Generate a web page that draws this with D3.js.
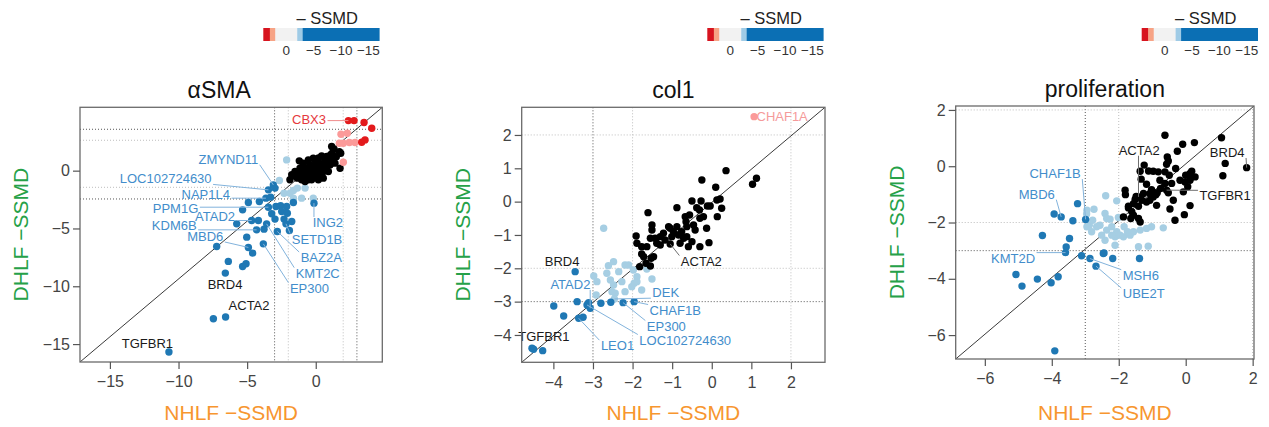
<!DOCTYPE html>
<html>
<head>
<meta charset="utf-8">
<script src="https://cdn.jsdelivr.net/npm/d3@7"></script>
<style>
body { margin: 0; background: #fff; }
</style>
</head>
<body>
<svg id="chart" width="1269" height="427"></svg>
<script>
// Module : SSMD scatter panels
// NHLF -SSMD (x) against DHLF -SSMD (y)

var panelTitles = ["αSMA", "col1", "proliferation"];
var xTitle = "NHLF \u2212SSMD";
var yTitle = "DHLF \u2212SSMD";

// colour key (top strip)
var ssmdRange = [4.2, -17];
var ssmdBreaks = [3, 2, -2, -3];
var ssmdTicks = [0, -5, -10, -15];

// ---- αSMA
var smaXTicks = [-15, -10, -5, 0];
var smaYTicks = [-15, -10, -5, 0];
var smaXCuts = [-3, -2, 2, 3];
var smaYCuts = [-2.45, -1.44, 2.63, 3.58];
var smaRed = [[2.38,4.33],[2.79,4.33],[3.52,4.16],[4.08,3.67],[3.35,2.46],[3.59,2.66]];
var smaPink = [[1.84,3.15],[2.30,3.24],[2.01,2.37],[2.45,2.43],[2.86,2.43],[2.01,0.73],[1.72,2.37]];
var smaBlack = [[1.16,2.09],[1.33,1.88],[1.72,1.65],[1.77,0.21],[1.82,1.51],
    [0.43,1.28],[0.80,1.22],[-0.18,1.08],[-1.20,0.85],[-0.54,0.93],[0.19,0.79],[0.92,0.79],[1.28,0.93],[-0.90,0.65],
    [-0.42,0.50],[-0.05,0.50],[0.31,0.50],[0.67,0.36],[1.04,0.50],[1.40,0.65],
    [-1.75,-0.36],[-1.39,-0.22],[-1.15,0.21],[-0.90,0.07],[-0.66,0.21],[-0.42,-0.07],[-0.18,0.07],[0.07,0.07],[0.55,-0.07],[0.92,-0.07],[0.31,-0.22],
    [-1.34,-0.65],[-1.03,-0.79],[-0.78,-0.94],[-0.54,-0.79],[-0.30,-0.79],[0.07,-0.51],[0.43,-0.36],[-1.63,-0.45],[-0.18,-0.36],[-0.71,-0.36],[-1.15,-0.22],[0.19,-0.79],[0.55,-0.65],[-0.47,-0.45],
    [-0.95,0.36],[-0.05,0.93],[0.67,0.79],[1.09,1.37],[-1.51,-0.07],[-1.88,-0.79],
    [0.20,1.10],[0.50,0.20],[-0.30,0.30],[1.20,1.50],[0.90,0.50],[-0.80,-0.60],[-0.20,-0.20],[0.40,0.10],[1.50,1.20]];
var smaLightBlue = [[-2.12,0.93],[-2.65,-0.85],[-1.63,-1.72],[-1.34,-1.51],[-0.78,-1.51],[-1.03,-2.38],[-0.18,-2.38],[-2.31,-1.95],[-1.88,-1.95],[-1.63,-2.38]];
var smaBlue = [[-3.09,-1.23],[-3.45,-1.66],[-2.97,-1.51],[-3.63,-2.38],[-3.29,-2.29],[-4.11,-2.67],[-4.91,-2.75],[-5.33,-3.39],[-3.45,-3.16],[-2.90,-3.10],
    [-2.56,-3.04],[-2.12,-3.10],[-1.63,-2.75],[-3.21,-3.73],[-2.48,-3.53],[-2.07,-3.68],[-2.97,-4.19],[-2.31,-4.19],[-2.17,-4.60],[-1.75,-4.40],
    [-1.92,-5.17],[-4.67,-4.31],[-4.18,-4.31],[-5.76,-4.60],[-4.31,-5.12],[-3.77,-5.06],[-3.58,-4.60],[-2.80,-5.26],[-5.03,-5.75],[-4.91,-6.64],
    [-4.60,-7.13],[-3.82,-6.33],[-7.22,-6.56],[-6.37,-7.85],[-5.33,-8.29],[-5.08,-8.05],[-6.59,-8.86],[-7.46,-12.81],[-6.57,-12.66],[-10.70,-15.69],[-0.13,-2.81]];
var smaLabelGenes = ["CBX3","ZMYND11","LOC102724630","NAP1L4","PPM1G","ATAD2","KDM6B","MBD6","ING2","SETD1B","BAZ2A","KMT2C","EP300","BRD4","ACTA2","TGFBR1"];
var smaLabelKinds = ["up","down","down","down","down","down","down","down","down","down","down","down","down","none","none","none"];
var smaLabelPoints = [[2.38,4.33],[-3.09,-1.23],[-3.45,-1.66],[-3.63,-2.38],[-3.45,-3.16],[-4.67,-4.31],[-4.31,-5.12],[-4.91,-6.64],[-0.13,-2.81],[-2.17,-4.60],[-2.80,-5.26],[-3.58,-4.60],[-3.82,-6.33],[-6.59,-8.86],[-6.57,-12.66],[-10.70,-15.69]];

// ---- col1
var colXTicks = [-4, -3, -2, -1, 0, 1, 2];
var colYTicks = [-4, -3, -2, -1, 0, 1, 2];
var colXCuts = [-3, -2, 2, 3];
var colYCuts = [-3, -2, 2, 3];
var colRed = [];
var colPink = [[1.07,2.55]];
var colBlack = [[0.36,0.93],[1.03,0.52],[1.13,0.70],[-0.25,0.65],[0.10,0.43],
    [-0.50,0.02],[-0.27,0.02],[-0.04,-0.13],[0.13,0.05],[0.21,0.08],[0.25,-0.20],[0.14,-0.45],[-0.11,-0.13],[-0.38,-0.18],[-0.31,-0.25],
    [-0.88,-0.18],[-0.67,-0.45],[-0.65,-0.60],[-0.56,-0.40],[-0.46,-0.70],[-0.42,-0.85],[-0.30,-0.50],[-0.21,-0.45],[-0.13,-0.80],[-0.07,-1.23],[-0.30,-1.35],
    [-1.61,-0.33],[-1.51,-0.70],[-1.51,-0.85],
    [-1.91,-1.03],[-1.89,-1.25],[-1.77,-1.35],[-1.64,-1.35],[-1.55,-1.10],[-1.39,-1.25],[-1.30,-1.05],[-1.18,-1.15],[-1.09,-0.75],[-1.05,-0.80],[-0.97,-0.90],
    [-0.84,-1.00],[-0.80,-1.25],[-0.76,-0.90],[-0.71,-1.10],[-0.63,-1.05],[-0.59,-1.35],[-0.50,-1.20],[-1.22,-0.95],
    [-1.82,-1.95],[-1.72,-1.65],[-1.66,-1.85],[-1.55,-1.93],[-1.53,-1.70],[-1.47,-1.65],[-1.77,-1.57],
    [-1.05,-1.27],[-1.30,-1.30],[-1.43,-1.10],[-0.88,-0.75],[-0.63,-0.75],[-1.01,-1.05]];
var colLightBlue = [[-2.73,-0.80],[-2.61,-1.92],[-2.48,-1.80],[-2.35,-2.10],[-2.19,-1.90],[-2.10,-1.90],[-1.98,-2.05],[-1.89,-2.25],[-1.96,-2.45],[-1.64,-2.02],
    [-1.51,-2.32],[-2.98,-2.23],[-2.90,-2.40],[-2.65,-2.15],[-2.56,-2.35],[-2.48,-2.50],[-2.27,-2.40],[-2.44,-2.75],[-2.19,-2.70],[-2.52,-2.70],
    [-1.77,-2.65],[-2.92,-2.80],[-1.89,-2.40],[-2.02,-2.55],[-2.46,-2.92]];
var colBlue = [[-3.45,-2.10],[-3.40,-3.00],[-3.11,-3.03],[-3.07,-3.20],[-2.80,-3.05],[-2.55,-3.02],[-2.24,-3.03],[-1.96,-3.00],[-3.99,-3.13],[-3.74,-3.43],
    [-3.36,-3.50],[-3.25,-3.47],[-4.54,-4.40],[-4.27,-4.47],[-4.50,-4.43],[-3.15,-3.10]];
var colLabelGenes = ["CHAF1A","ACTA2","BRD4","ATAD2","DEK","CHAF1B","EP300","LOC102724630","LEO1","TGFBR1"];
var colLabelKinds = ["upWeak","none","none","down","down","down","down","down","down","none"];
var colLabelPoints = [[1.07,2.55],[-1.05,-1.27],[-3.45,-2.10],[-3.07,-3.20],[-2.46,-2.92],[-1.96,-3.00],[-2.24,-3.03],[-3.15,-3.10],[-3.36,-3.50],[-4.54,-4.40]];

// ---- proliferation
var proXTicks = [-6, -4, -2, 0, 2];
var proYTicks = [-6, -4, -2, 0, 2];
var proXCuts = [-3, -2, 2, 3];
var proYCuts = [-3, -2, 2, 3];
var proRed = [];
var proPink = [];
var proBlack = [[-0.62,1.10],[-0.09,0.78],[0.26,0.84],[-0.25,0.53],[-0.55,0.33],[-0.52,0.19],[-0.57,0.07],[-0.62,-0.20],[-0.30,-0.08],[0.13,-0.26],
    [0.18,-0.18],[0.28,-0.38],[0.00,-0.32],[-0.17,-0.50],[-0.02,-0.56],[0.13,-0.50],[-0.42,-0.61],[-0.62,-0.61],[-0.77,-0.50],[-0.49,-0.32],
    [1.07,1.01],[1.18,0.10],[1.11,-0.34],[1.82,-0.05],
    [-1.24,0.04],[-1.36,-0.18],[-1.11,-0.17],[-0.97,-0.18],[-0.82,-0.20],[-1.33,-0.46],[-1.17,-0.64],[-1.02,-0.83],[-0.85,-0.94],[-0.75,-0.79],
    [-0.52,-0.94],[-0.37,-1.21],[-0.07,-0.91],[0.06,-0.73],[0.13,-1.40],[-0.04,-1.72],[-0.32,-1.92],[-0.47,-1.52],[-0.89,-1.01],[-1.07,-1.21],
    [-0.87,-1.39],[-1.17,-1.27],[-1.31,-1.21],[-1.48,-1.07],[-1.56,-1.33],[-1.41,-1.42],[-1.71,-1.42],[-1.81,-0.85],[-1.80,-1.01],[-1.86,-1.80],
    [-1.64,-1.86],[-1.56,-1.74],[-1.41,-1.86],[-1.36,-1.98],[-1.61,-1.62],[-1.71,-1.48],[-1.51,-1.18],[-1.36,-1.09],[-1.26,-0.97],[-1.07,-0.97],
    [-0.97,-1.09],[-0.57,-0.85]];
var proLightBlue = [[-2.95,-1.56],[-2.74,-1.53],[-2.39,-1.05],[-2.06,-1.23],[-2.41,-1.68],[-2.36,-1.86],[-2.01,-1.82],[-2.88,-2.10],[-2.95,-2.15],[-2.81,-2.33],
    [-2.56,-2.10],[-2.36,-2.27],[-2.21,-2.15],[-2.06,-2.33],[-1.84,-2.15],[-1.71,-2.39],[-2.11,-2.51],[-2.41,-2.63],[-2.11,-2.81],[-1.96,-2.45],
    [-1.86,-2.51],[-1.66,-2.45],[-1.56,-2.33],[-1.36,-2.27],[-1.17,-2.21],[-1.02,-2.15],[-0.67,-2.19],[-1.41,-2.86],[-1.12,-2.84],[-2.78,-1.92],
    [-2.66,-2.15],[-2.21,-2.45],[-2.51,-2.45],[-2.26,-1.88],[-1.74,-2.33],[-2.96,-1.70]];
var proBlue = [[-3.23,-1.33],[-2.99,-1.89],[-3.93,-1.70],[-3.72,-1.80],[-3.37,-1.94],[-4.28,-2.46],[-3.47,-2.57],[-3.57,-2.87],[-3.59,-3.07],[-3.11,-3.18],
    [-2.86,-3.28],[-2.68,-3.55],[-2.46,-3.10],[-2.44,-3.08],[-2.18,-3.28],[-1.38,-3.28],[-5.07,-3.85],[-4.89,-4.26],[-4.43,-4.01],[-4.02,-4.14],
    [-3.81,-3.93],[-3.91,-6.56]];
var proLabelGenes = ["ACTA2","BRD4","TGFBR1","CHAF1B","MBD6","KMT2D","MSH6","UBE2T"];
var proLabelKinds = ["none","none","none","down","down","down","down","down"];
var proLabelPoints = [[-1.41,-1.09],[1.82,-0.05],[-0.57,-0.85],[-2.99,-1.89],[-3.72,-1.80],[-3.59,-3.07],[-2.86,-3.28],[-2.68,-3.55]];


if (!window.Chart) {
    var Chart = {};
}

(function(d3) {

    var FONT = '"Liberation Sans", Arial, Helvetica, sans-serif';
    var svg = d3.select("#chart");
    var defs = svg.append("defs");

    var dotColor = { lightBlue: "#a6cee3", black: "#000000", pink: "#fb9a99", red: "#e31a1c", blue: "#1f78b4" };
    var labelColor = { down: "#428dcb", none: "#1a1a1a", up: "#e5383d", upWeak: "#f59a9a" };
    var leaderColor = { down: "#82b3dc", none: "#6e6e6e", up: "#f08c8c", upWeak: "#f59a9a" };
    var barColors = ["#d7141f", "#f7a385", "#f2f2f2", "#9fcbe6", "#0b6fb4"];

    //*** colour key above each panel
    var colorKey = (function() {

        var render = function(left) {
            var s = d3.scaleLinear().domain(ssmdRange).range([left, left + 116]);
            var stops = [ssmdRange[0]].concat(ssmdBreaks, [ssmdRange[1]]);
            var g = svg.append("g").attr("class", "colorKey").attr("font-family", FONT);

            g.selectAll("rect")
                .data(d3.range(stops.length - 1))
                .enter()
                .append("rect")
                .attr("x", function(i) { return s(stops[i]); })
                .attr("width", function(i) { return s(stops[i + 1]) - s(stops[i]) + 0.3; })
                .attr("y", 28)
                .attr("height", 13)
                .attr("fill", function(i) { return barColors[i]; });

            g.selectAll("text.tick")
                .data(ssmdTicks)
                .enter()
                .append("text")
                .attr("class", "tick")
                .attr("x", function(d) { return s(d); })
                .attr("y", 55)
                .attr("text-anchor", "middle")
                .attr("font-size", 13.5)
                .attr("fill", "#333")
                .text(function(d) { return d3.format("d")(d); });

            g.append("text")
                .attr("x", s(-7.5))
                .attr("y", 24)
                .attr("text-anchor", "middle")
                .attr("font-size", 16.5)
                .attr("fill", "#222")
                .text("\u2013 SSMD");
        };

        return { "render": render };
    })();

    //*** one scatter panel
    var scatterPanel = (function() {

        var render = function(cfg) {
            var box = cfg.box;
            var x = d3.scaleLinear().domain(cfg.xDomain).range([box.left, box.right]);
            var y = d3.scaleLinear().domain(cfg.yDomain).range([box.bottom, box.top]);
            var g = svg.append("g").attr("class", "panel").attr("font-family", FONT);
            var clipId = "clip" + cfg.id;

            defs.append("clipPath").attr("id", clipId)
                .append("rect")
                .attr("x", box.left).attr("y", box.top)
                .attr("width", box.right - box.left).attr("height", box.bottom - box.top);

            var plot = g.append("g").attr("clip-path", "url(#" + clipId + ")");

            // threshold lines, outer ones darker
            plot.selectAll("line.vcut")
                .data(cfg.xCuts)
                .enter()
                .append("line")
                .attr("x1", function(d) { return x(d); })
                .attr("x2", function(d) { return x(d); })
                .attr("y1", box.top)
                .attr("y2", box.bottom)
                .attr("stroke", function(d, i) { return (i === 0 || i === cfg.xCuts.length - 1) ? "#555" : "#bdbdbd"; })
                .attr("stroke-width", 1)
                .attr("stroke-dasharray", "1,2");

            plot.selectAll("line.hcut")
                .data(cfg.yCuts)
                .enter()
                .append("line")
                .attr("y1", function(d) { return y(d); })
                .attr("y2", function(d) { return y(d); })
                .attr("x1", box.left)
                .attr("x2", box.right)
                .attr("stroke", function(d, i) { return (i === 0 || i === cfg.yCuts.length - 1) ? "#555" : "#bdbdbd"; })
                .attr("stroke-width", 1)
                .attr("stroke-dasharray", "1,2");

            // corner to corner diagonal
            plot.append("line")
                .attr("x1", x(cfg.xDomain[0])).attr("y1", y(cfg.yDomain[0]))
                .attr("x2", x(cfg.xDomain[1])).attr("y2", y(cfg.yDomain[1]))
                .attr("stroke", "#3a3a3a")
                .attr("stroke-width", 1);

            cfg.groups.forEach(function(grp) {
                plot.append("g")
                    .selectAll("circle")
                    .data(grp.points)
                    .enter()
                    .append("circle")
                    .attr("cx", function(d) { return x(d[0]); })
                    .attr("cy", function(d) { return y(d[1]); })
                    .attr("r", 3.7)
                    .style("fill", dotColor[grp.key]);
            });

            // gene labels with leader lines
            var labelLayer = g.append("g");
            cfg.genes.forEach(function(gene, i) {
                var spot = cfg.spots[i];
                var kind = cfg.kinds[i];
                var pt = cfg.labelPoints[i];
                var t = labelLayer.append("text")
                    .attr("x", x(spot[0]))
                    .attr("y", y(spot[1]))
                    .attr("dy", "0.35em")
                    .attr("text-anchor", spot[2])
                    .attr("font-size", 13)
                    .attr("fill", labelColor[kind])
                    .text(gene);

                if (spot[3]) {
                    var bb = t.node().getBBox();
                    var px = x(pt[0]), py = y(pt[1]);
                    var pad = 1.5;
                    var sx = Math.max(bb.x - pad, Math.min(px, bb.x + bb.width + pad));
                    var sy = Math.max(bb.y + 2, Math.min(py, bb.y + bb.height - 2));
                    labelLayer.insert("line", "text")
                        .attr("x1", sx).attr("y1", sy)
                        .attr("x2", px).attr("y2", py)
                        .attr("stroke", leaderColor[kind])
                        .attr("stroke-width", 1);
                }
            });

            g.append("rect")
                .attr("x", box.left).attr("y", box.top)
                .attr("width", box.right - box.left).attr("height", box.bottom - box.top)
                .attr("fill", "none")
                .attr("stroke", "#6a6a6a")
                .attr("stroke-width", 1.3);

            var styleAxis = function(a) {
                a.attr("font-family", FONT).attr("font-size", 16);
                a.select(".domain").remove();
                a.selectAll(".tick line").attr("stroke", "#555").attr("stroke-width", 1.2);
                a.selectAll(".tick text").attr("fill", "#444");
            };

            g.append("g")
                .attr("transform", "translate(0," + box.bottom + ")")
                .call(d3.axisBottom(x).tickValues(cfg.xTicks).tickSize(7).tickPadding(7))
                .call(styleAxis);

            g.append("g")
                .attr("transform", "translate(" + box.left + ",0)")
                .call(d3.axisLeft(y).tickValues(cfg.yTicks).tickSize(7).tickPadding(3))
                .call(styleAxis);

            var cx = (box.left + box.right) / 2;
            var cy = (box.top + box.bottom) / 2;

            g.append("text")
                .attr("x", cx + (cfg.titleShift || 0)).attr("y", box.top - 9.5)
                .attr("text-anchor", "middle")
                .attr("font-size", 23)
                .attr("fill", "#111")
                .text(cfg.title);

            g.append("text")
                .attr("x", cx).attr("y", 420)
                .attr("text-anchor", "middle")
                .attr("font-size", 21)
                .attr("fill", "#f7962f")
                .text(xTitle);

            g.append("text")
                .attr("transform", "translate(" + (box.left - 52) + "," + cy + ") rotate(-90)")
                .attr("text-anchor", "middle")
                .attr("font-size", 21)
                .attr("fill", "#26a148")
                .text(yTitle);
        }; //render function Ends

        return { "render": render };
    })();

    // label layout: [text x, text y, anchor, leader?] in data units
    scatterPanel.render({
        id: 1, title: panelTitles[0], titleShift: -12,
        box: { left: 80, right: 382.3, top: 107.3, bottom: 362 },
        xDomain: [-17.18, 4.85], yDomain: [-16.55, 5.48],
        xTicks: smaXTicks, yTicks: smaYTicks, xCuts: smaXCuts, yCuts: smaYCuts,
        groups: [{ key: "lightBlue", points: smaLightBlue }, { key: "black", points: smaBlack },
                 { key: "pink", points: smaPink }, { key: "red", points: smaRed }, { key: "blue", points: smaBlue }],
        genes: smaLabelGenes, kinds: smaLabelKinds, labelPoints: smaLabelPoints,
        spots: [[0.75,4.45,"end",true],[-6.37,0.99,"middle",true],[-7.59,-0.71,"end",true],[-6.25,-2.03,"end",true],
                [-8.56,-3.30,"end",true],[-7.34,-3.96,"middle",true],[-8.68,-4.74,"end",true],[-6.74,-5.69,"end",true],
                [-0.22,-4.48,"start",true],[-1.75,-5.92,"start",true],[-1.10,-7.51,"start",true],[-1.46,-8.86,"start",true],
                [-1.88,-10.16,"start",true],[-6.61,-9.87,"middle",false],[-4.86,-11.66,"middle",false],[-12.27,-14.91,"middle",false]]
    });

    scatterPanel.render({
        id: 2, title: panelTitles[1],
        box: { left: 521.7, right: 825, top: 107.3, bottom: 362.3 },
        xDomain: [-4.80, 2.86], yDomain: [-4.82, 2.83],
        xTicks: colXTicks, yTicks: colYTicks, xCuts: colXCuts, yCuts: colYCuts,
        groups: [{ key: "lightBlue", points: colLightBlue }, { key: "black", points: colBlack },
                 { key: "pink", points: colPink }, { key: "red", points: colRed }, { key: "blue", points: colBlue }],
        genes: colLabelGenes, kinds: colLabelKinds, labelPoints: colLabelPoints,
        spots: [[1.13,2.55,"start",false],[-0.78,-1.78,"start",true],[-3.78,-1.80,"middle",false],[-3.57,-2.48,"middle",true],
                [-1.50,-2.73,"start",true],[-1.57,-3.25,"start",true],[-1.64,-3.73,"start",true],[-1.83,-4.15,"start",true],
                [-2.80,-4.32,"start",true],[-4.24,-4.05,"middle",false]]
    });

    scatterPanel.render({
        id: 3, title: panelTitles[2],
        box: { left: 955.7, right: 1254, top: 106, bottom: 359 },
        xDomain: [-6.87, 2.04], yDomain: [-6.85, 2.14],
        xTicks: proXTicks, yTicks: proYTicks, xCuts: proXCuts, yCuts: proYCuts,
        groups: [{ key: "lightBlue", points: proLightBlue }, { key: "black", points: proBlack },
                 { key: "pink", points: proPink }, { key: "red", points: proRed }, { key: "blue", points: proBlue }],
        genes: proLabelGenes, kinds: proLabelKinds, labelPoints: proLabelPoints,
        spots: [[-1.39,0.57,"middle",true],[1.24,0.49,"middle",true],[0.41,-1.05,"start",true],[-3.90,-0.26,"middle",true],
                [-4.45,-0.99,"middle",true],[-4.50,-3.26,"end",true],[-1.88,-3.87,"start",true],[-1.88,-4.52,"start",true]]
    });

    [263.3, 707.3, 1141.7].forEach(function(left) {
        colorKey.render(left);
    });

    //*** Module injection
    Chart.scatterPanel = scatterPanel;
    Chart.colorKey = colorKey;

})(d3);
</script>
</body>
</html>
